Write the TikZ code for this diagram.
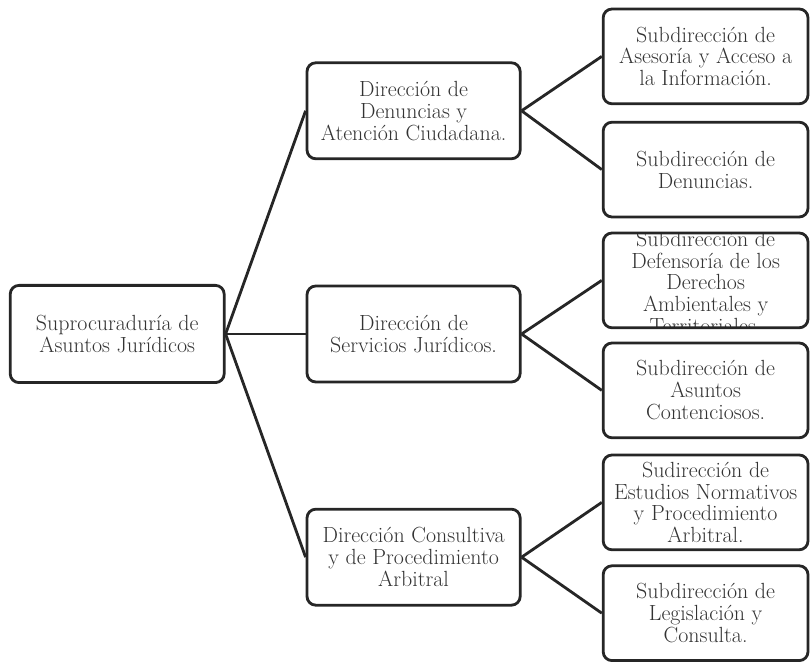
\documentclass[tikz,border=0pt]{standalone}
\usepackage{tikz}
\usetikzlibrary{positioning}
\tikzset{
    orgbox/.style={rectangle, draw=black!85, line width=2pt, fill=white, rounded corners=0.22cm, align=center, inner sep=0.5pt, text=black!80, font=\fontsize{15.6}{15.6}\selectfont},
    rootbox/.style={orgbox, minimum width=5.35cm, minimum height=2.43cm},
    midbox/.style={orgbox, minimum width=5.33cm, minimum height=2.4cm},
    subbox/.style={orgbox, minimum width=5.12cm, minimum height=2.37cm},
    link/.style={draw=black!85, line width=2pt}
}

\begin{document}
\begin{tikzpicture}
    \useasboundingbox (0,0) rectangle (20.25,16.55);

    % Subprocuraduria
    \node[rootbox] (subproc) at (2.93,8.2) {Suprocuraduría de\\Asuntos Jurídicos};

    % Direcciones
    \node[midbox] (denuncias) at (10.34,13.78) {Dirección de\\Denuncias y\\Atención Ciudadana.};
    \node[midbox] (servicios) at (10.34,8.2) {Dirección de\\Servicios Jurídicos.};
    \node[midbox] (consultiva) at (10.34,2.62) {Dirección Consultiva\\y de Procedimiento\\Arbitral};

    % Subdirecciones
    \node[subbox] (asesoria) at (17.64,15.14) {Subdirección de\\Asesoría y Acceso a\\la Información.};
    \node[subbox] (subdenuncias) at (17.64,12.31) {Subdirección de\\Denuncias.};
    % texto recortado por el borde
    \node[subbox, path picture={
        \node[draw=none, fill=none, align=center, text=black!80, font=\fontsize{15.6}{15.6}\selectfont]
            at ([yshift=-0.05cm]path picture bounding box.center)
            {Subdirección de\\Defensoría de los\\Derechos\\Ambientales y\\Territoriales.};
    }] (defensoria) at (17.64,9.54) {};
    \node[subbox] (contenciosos) at (17.64,6.79) {Subdirección de\\Asuntos\\Contenciosos.};
    \node[subbox] (estudios) at (17.64,3.99) {Sudirección de\\Estudios Normativos\\y Procedimiento\\Arbitral.};
    \node[subbox] (legislacion) at (17.64,1.22) {Subdirección de\\Legislación y\\Consulta.};

    % Conectores
    \draw[link] (subproc.east) -- (denuncias.west);
    \draw[link] (subproc.east) -- (servicios.west);
    \draw[link] (subproc.east) -- (consultiva.west);
    \draw[link] (denuncias.east) -- (asesoria.west);
    \draw[link] (denuncias.east) -- (subdenuncias.west);
    \draw[link] (servicios.east) -- (defensoria.west);
    \draw[link] (servicios.east) -- (contenciosos.west);
    \draw[link] (consultiva.east) -- (estudios.west);
    \draw[link] (consultiva.east) -- (legislacion.west);
\end{tikzpicture}
\end{document}
